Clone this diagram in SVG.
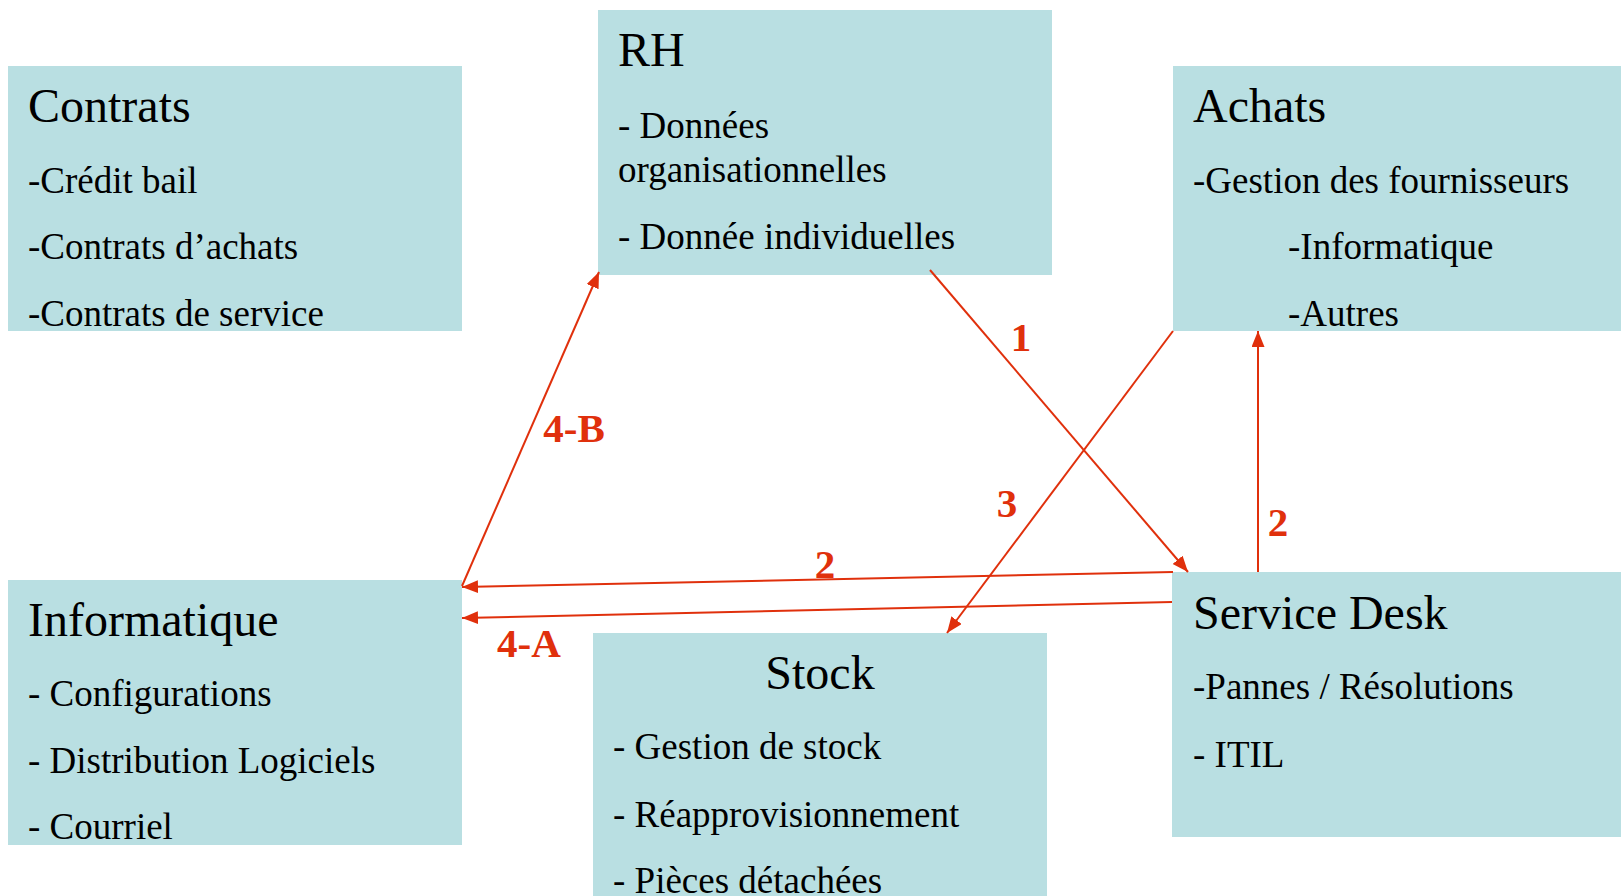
<svg xmlns="http://www.w3.org/2000/svg" width="1621" height="896" viewBox="0 0 1621 896">
  <style>
    .box { fill: #b9dfe2; }
    .title { font-family: "Liberation Serif", "Times New Roman", serif; font-size: 48px; fill: #000; }
    .item { font-family: "Liberation Serif", "Times New Roman", serif; font-size: 37px; fill: #000; }
    .link { stroke: #e0300c; stroke-width: 2; fill: none; marker-end: url(#arrow); }
    .num { font-family: "Liberation Serif", "Times New Roman", serif; font-size: 41px; font-weight: bold; fill: #e0300c; }
  </style>
  <defs>
    <marker id="arrow" markerUnits="userSpaceOnUse" markerWidth="17" markerHeight="14" refX="16" refY="6.5" orient="auto">
      <path d="M0,0 L16,6.5 L0,13 z" fill="#e0300c"/>
    </marker>
  </defs>
  <rect width="1621" height="896" fill="#fff"/>

  <g id="contrats">
    <rect class="box" x="8" y="66" width="454" height="265"/>
    <text class="title" x="28" y="122">Contrats</text>
    <text class="item" x="28" y="193">-Crédit bail</text>
    <text class="item" x="28" y="259">-Contrats d’achats</text>
    <text class="item" x="28" y="326">-Contrats de service</text>
  </g>

  <g id="rh">
    <rect class="box" x="598" y="10" width="454" height="265"/>
    <text class="title" x="618" y="66">RH</text>
    <text class="item" x="618" y="138">- Données</text>
    <text class="item" x="618" y="182">organisationnelles</text>
    <text class="item" x="618" y="249">- Donnée individuelles</text>
  </g>

  <g id="achats">
    <rect class="box" x="1173" y="66" width="448" height="265"/>
    <text class="title" x="1193" y="122">Achats</text>
    <text class="item" x="1193" y="193">-Gestion des fournisseurs</text>
    <text class="item" x="1288" y="259">-Informatique</text>
    <text class="item" x="1288" y="326">-Autres</text>
  </g>

  <g id="informatique">
    <rect class="box" x="8" y="580" width="454" height="265"/>
    <text class="title" x="28" y="636">Informatique</text>
    <text class="item" x="28" y="706">- Configurations</text>
    <text class="item" x="28" y="773">- Distribution Logiciels</text>
    <text class="item" x="28" y="839">- Courriel</text>
  </g>

  <g id="stock">
    <rect class="box" x="593" y="633" width="454" height="265"/>
    <text class="title" x="820" y="689" text-anchor="middle">Stock</text>
    <text class="item" x="613" y="759">- Gestion de stock</text>
    <text class="item" x="613" y="827">- Réapprovisionnement</text>
    <text class="item" x="613" y="893">- Pièces détachées</text>
  </g>

  <g id="service-desk">
    <rect class="box" x="1172" y="572" width="449" height="265"/>
    <text class="title" x="1193" y="629">Service Desk</text>
    <text class="item" x="1193" y="699">-Pannes / Résolutions</text>
    <text class="item" x="1193" y="767">- ITIL</text>
  </g>

  <g id="connectors">
    <line class="link" x1="930" y1="270" x2="1188" y2="572"/>
    <line class="link" x1="1258" y1="572" x2="1258" y2="331"/>
    <line class="link" x1="1173" y1="572" x2="462" y2="587"/>
    <line class="link" x1="1173" y1="331" x2="947" y2="633"/>
    <line class="link" x1="1172" y1="602" x2="462" y2="618"/>
    <line class="link" x1="462" y1="586" x2="599" y2="272"/>
    <text class="num" x="1021" y="351" text-anchor="middle">1</text>
    <text class="num" x="1278" y="536" text-anchor="middle">2</text>
    <text class="num" x="825" y="578" text-anchor="middle">2</text>
    <text class="num" x="1007" y="517" text-anchor="middle">3</text>
    <text class="num" x="574" y="442" text-anchor="middle">4-B</text>
    <text class="num" x="529" y="657" text-anchor="middle">4-A</text>
  </g>
</svg>
